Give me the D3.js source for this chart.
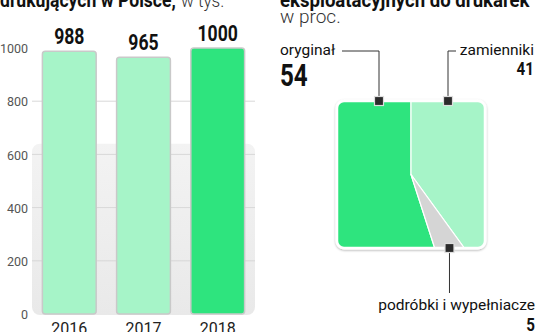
<!DOCTYPE html>
<html>
<head>
<meta charset="utf-8">
<script src="https://cdn.jsdelivr.net/npm/d3@7"></script>
<style>
  html, body { margin: 0; padding: 0; background: #fff; }
  svg { display: block; }
  .tick-label { font-family: Roboto, sans-serif; font-size: 12.5px; fill: #555; }
  .year { font-family: Roboto, sans-serif; font-size: 16px; fill: #222; }
  .num { font-family: Roboto, sans-serif; font-weight: bold; fill: #111; }
  .lbl { font-family: Roboto, sans-serif; font-size: 15.5px; fill: #111; }
  .title { font-family: Roboto, sans-serif; font-size: 20px; font-weight: bold; fill: #111; }
  .sub { font-family: Roboto, sans-serif; font-weight: 300; fill: #333; }
</style>
</head>
<body>
<div id="container"></div>
<script>
// left chart: devices, thousands
const years = ["2016", "2017", "2018"];
const devices = [988, 965, 1000];
const yTicks = [0, 200, 400, 600, 800, 1000];
const gridTicks = [200, 400, 600, 800];

// right chart: consumables market share, %
const shareNames = ["oryginał", "zamienniki", "podróbki i wypełniacze"];
const shareValues = [54, 41, 5];

const w = 536;
const h = 332;
const lightGreen = "#a6f4c8";
const green = "#2ee47e";

const svg = d3.select("#container")
  .append("svg")
  .attr("width", w)
  .attr("height", h);

const defs = svg.append("defs");
const grad = defs.append("linearGradient")
  .attr("id", "panel")
  .attr("x1", 0).attr("x2", 0).attr("y1", 0).attr("y2", 1);
grad.append("stop").attr("offset", "0%").attr("stop-color", "#f3f3f3");
grad.append("stop").attr("offset", "100%").attr("stop-color", "#e9e9e9");

defs.append("filter")
  .attr("id", "shadow")
  .attr("x", "-10%").attr("y", "-10%").attr("width", "120%").attr("height", "120%")
  .append("feDropShadow")
  .attr("dx", 0).attr("dy", 1).attr("stdDeviation", 1.2)
  .attr("flood-color", "#000").attr("flood-opacity", 0.3);

// no condensed face installed, so squeeze text horizontally
function squeezed(parent, px, py, sx) {
  return parent.append("text")
    .attr("transform", `translate(${px},${py}) scale(${sx},1)`);
}

/*---------------- TITLES (cut off at the top) ----------------*/
const boldSx = 0.88;
const t1 = squeezed(svg, 0, 7, boldSx).attr("class", "title")
  .text("drukujących w Polsce,");
const t1End = t1.node().getComputedTextLength() * boldSx;
squeezed(svg, t1End + 5, 7, 0.9).attr("class", "sub").attr("font-size", 19)
  .text("w tys.");

squeezed(svg, 280, 7, 0.93).attr("class", "title")
  .text("eksploatacyjnych do drukarek");
svg.append("text").attr("x", 280).attr("y", 23).attr("class", "sub")
  .attr("font-size", 19).text("w proc.");

/*---------------- BAR CHART ----------------*/
const x = d3.scaleBand()
  .domain(years)
  .range([32, 255])
  .paddingInner(0.275)
  .paddingOuter(0.14);

const y = d3.scaleLinear()
  .domain([0, 1000])
  .range([314, 48]);

// gray panel behind the lower part
svg.append("rect")
  .attr("x", 32)
  .attr("y", y(640))
  .attr("width", 223)
  .attr("height", y(0) - y(640) + 1)
  .attr("rx", 8)
  .attr("fill", "url(#panel)");

svg.append("g")
  .selectAll("line")
  .data(gridTicks)
  .enter()
  .append("line")
  .attr("x1", 32)
  .attr("x2", 255)
  .attr("y1", d => y(d))
  .attr("y2", d => y(d))
  .attr("stroke", "#d8d8d8")
  .attr("stroke-width", 1);

svg.append("g")
  .selectAll("text")
  .data(yTicks)
  .enter()
  .append("text")
  .attr("class", "tick-label")
  .attr("x", 28)
  .attr("y", d => y(d) + 2)
  .attr("text-anchor", "end")
  .attr("dominant-baseline", "middle")
  .text(d => d);

svg.append("g")
  .selectAll("rect")
  .data(devices)
  .enter()
  .append("rect")
  .attr("x", (d, i) => x(years[i]))
  .attr("y", d => y(d))
  .attr("width", x.bandwidth())
  .attr("height", d => y(0) - y(d))
  .attr("rx", 3)
  .attr("fill", (d, i) => i === 2 ? green : lightGreen)
  .attr("stroke", "#c9c9c9")
  .attr("stroke-width", 1.5);

const valG = svg.append("g");
devices.forEach((d, i) => {
  squeezed(valG, x(years[i]) + x.bandwidth() / 2, y(d) - 7, 0.8)
    .attr("class", "num")
    .attr("font-size", 22)
    .attr("text-anchor", "middle")
    .text(d);
});

svg.append("g")
  .selectAll("text")
  .data(years)
  .enter()
  .append("text")
  .attr("class", "year")
  .attr("x", d => x(d) + x.bandwidth() / 2)
  .attr("y", 334)
  .attr("text-anchor", "middle")
  .text(d => d);

/*---------------- SHARE BOX ----------------*/
const bx = d3.scaleLinear().domain([0, 1]).range([337, 485]);
const by = d3.scaleLinear().domain([0, 1]).range([101, 248]);
const total = d3.sum(shareValues);
// top half is a straight split, the lower half fans out so areas match the shares
const splitX = 0.5;
const splitY = 0.5;
const lowerH = 1 - splitY;
const origFr = shareValues[0] / total;
const fakeFr = shareValues[2] / total;
const origBottom = 2 * (origFr - splitX * splitY) / lowerH - splitX;
const fakeBottom = origBottom + 2 * fakeFr / lowerH;

const pt = (a, b) => [bx(a), by(b)];
const shapes = [
  [pt(0, 0), pt(splitX, 0), pt(splitX, splitY), pt(origBottom, 1), pt(0, 1)],
  [pt(splitX, 0), pt(1, 0), pt(1, 1), pt(fakeBottom, 1), pt(splitX, splitY)],
  [pt(splitX, splitY), pt(fakeBottom, 1), pt(origBottom, 1)]
];
const shapeColors = [green, lightGreen, "#d5d5d5"];

defs.append("clipPath").attr("id", "boxclip")
  .append("rect")
  .attr("x", bx(0)).attr("y", by(0))
  .attr("width", bx(1) - bx(0)).attr("height", by(1) - by(0))
  .attr("rx", 7);

svg.append("rect")
  .attr("x", bx(0)).attr("y", by(0))
  .attr("width", bx(1) - bx(0)).attr("height", by(1) - by(0))
  .attr("rx", 7)
  .attr("fill", "#fff")
  .attr("stroke", "#fff")
  .attr("stroke-width", 3)
  .attr("filter", "url(#shadow)");

const line = d3.line();
svg.append("g")
  .attr("clip-path", "url(#boxclip)")
  .selectAll("path")
  .data(shapes)
  .enter()
  .append("path")
  .attr("d", d => line(d) + "Z")
  .attr("fill", (d, i) => shapeColors[i])
  .attr("stroke", "#fff")
  .attr("stroke-width", 1.2)
  .attr("stroke-linejoin", "round");

svg.append("rect")
  .attr("x", bx(0)).attr("y", by(0))
  .attr("width", bx(1) - bx(0)).attr("height", by(1) - by(0))
  .attr("rx", 7)
  .attr("fill", "none")
  .attr("stroke", "#fff")
  .attr("stroke-width", 2.5);

// connectors and markers
const m1 = bx(splitX / 2) + 5;
const m2 = bx((1 + splitX) / 2);
const m3 = bx((origBottom + fakeBottom) / 2);
const markers = [
  { x: m1, y: by(0), path: [[m1, by(0)], [m1, 51], [342, 51]] },
  { x: m2, y: by(0), path: [[m2, by(0)], [m2, 51], [456, 51]] },
  { x: m3, y: by(1), path: [[m3, by(1)], [m3, 293]] }
];

svg.append("g")
  .selectAll("path")
  .data(markers)
  .enter()
  .append("path")
  .attr("d", d => line(d.path))
  .attr("fill", "none")
  .attr("stroke", "#333")
  .attr("stroke-width", 1);

svg.append("g")
  .selectAll("rect")
  .data(markers)
  .enter()
  .append("rect")
  .attr("x", d => d.x - 4.5)
  .attr("y", d => d.y - 4.5)
  .attr("width", 9)
  .attr("height", 9)
  .attr("fill", "#2b2b2b")
  .attr("stroke", "#ddd")
  .attr("stroke-width", 1.2);

// labels
svg.append("text").attr("class", "lbl").attr("x", 280).attr("y", 55).text(shareNames[0]);
squeezed(svg, 280, 86, 0.78).attr("class", "num").attr("font-size", 31).text(shareValues[0]);

svg.append("text").attr("class", "lbl").attr("x", 534).attr("y", 55)
  .attr("text-anchor", "end").text(shareNames[1]);
squeezed(svg, 534, 75, 0.8).attr("class", "num").attr("font-size", 19)
  .attr("text-anchor", "end").text(shareValues[1]);

svg.append("text").attr("class", "lbl").attr("x", 535).attr("y", 310)
  .attr("text-anchor", "end").text(shareNames[2]);
squeezed(svg, 535, 331, 0.8).attr("class", "num").attr("font-size", 19)
  .attr("text-anchor", "end").text(shareValues[2]);
</script>
</body>
</html>
